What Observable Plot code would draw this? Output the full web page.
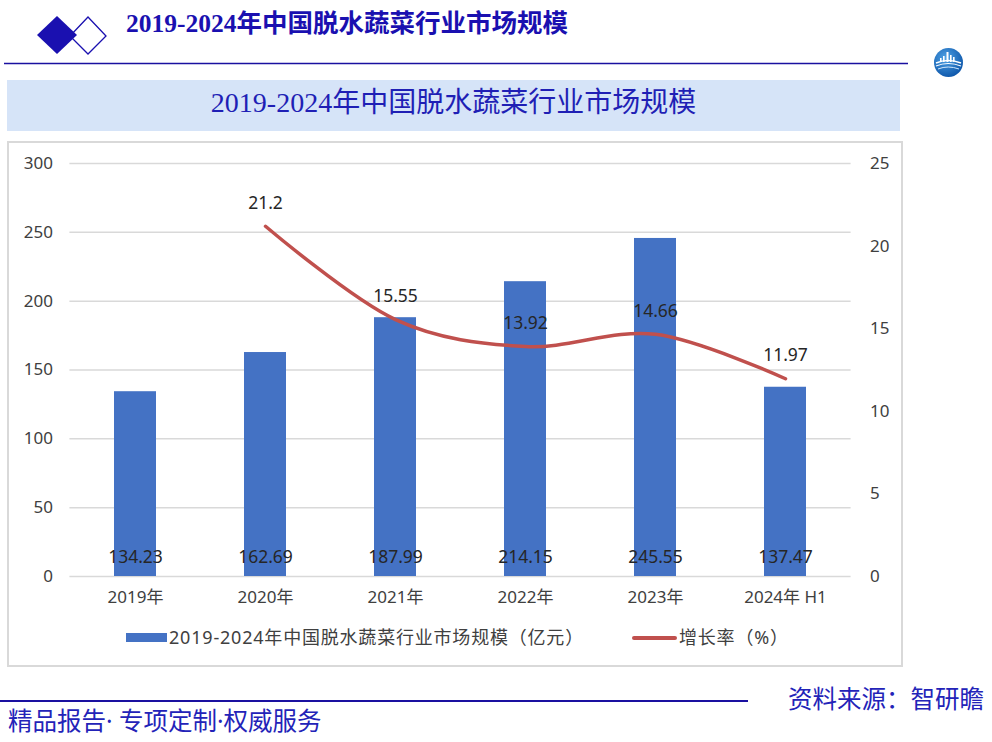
<!DOCTYPE html>
<html><head><meta charset="utf-8">
<script src="https://cdn.jsdelivr.net/npm/d3@7"></script>
<script src="https://cdn.jsdelivr.net/npm/@observablehq/plot@0.6"></script>
<style>
body{margin:0;background:#fff;width:992px;height:742px;position:relative;overflow:hidden;font-family:"Noto Sans","Noto Sans CJK SC",sans-serif;}
.abs{position:absolute;}
#legend{left:0;top:626px;width:992px;height:22px;}
.sw{position:absolute;}
.lt{position:absolute;font-size:18px;letter-spacing:0.8px;color:#404040;line-height:22px;white-space:nowrap;}
</style></head><body>
<svg class="abs" style="left:0;top:0" width="992" height="100">
  <defs>
    <radialGradient id="lg" cx="0.4" cy="0.35" r="0.7">
      <stop offset="0" stop-color="#4fa3e6"/>
      <stop offset="1" stop-color="#0c54a8"/>
    </radialGradient>
  </defs>
  <polygon points="88,17 106,36 88,54 70,36" fill="#fff" stroke="#1a10b0" stroke-width="1.3"/>
  <polygon points="57,16 77,35 57,54 37,35" fill="#1a10b0"/>
  <line x1="4" y1="63.5" x2="908" y2="63.5" stroke="#1a10a0" stroke-width="1.5"/>
  <circle cx="948.5" cy="62.5" r="14.5" fill="url(#lg)"/>
  <g fill="#fff">
    <rect x="946.5" y="52" width="2" height="10"/>
    <rect x="950" y="55" width="1.6" height="7"/>
    <rect x="943" y="56" width="1.6" height="6"/>
    <rect x="953" y="57" width="1.6" height="5"/>
    <rect x="940" y="58" width="1.6" height="4"/>
  </g>
  <path d="M936,63 Q948,58 961,63" stroke="#fff" stroke-width="1.6" fill="none"/>
  <path d="M936,66 Q948,61 961,66" stroke="#fff" stroke-width="1.2" fill="none"/>
  <path d="M938,69 Q948,65 959,69" stroke="#cfe6fa" stroke-width="1" fill="none"/>
</svg>
<div class="abs" id="htitle" style="left:126px;top:9px;font:bold 25.5px 'Liberation Serif','Noto Sans CJK SC',serif;color:#1a10b0;line-height:30px;white-space:nowrap"></div>
<div class="abs" style="left:7px;top:80px;width:893px;height:51px;background:#d6e4f8;"></div>
<div class="abs" id="btitle" style="left:7px;top:80px;width:893px;height:51px;line-height:51px;text-align:center;font:28px 'Liberation Serif','Noto Sans CJK SC',serif;color:#1f1fb5;white-space:nowrap"></div>
<div class="abs" style="left:7px;top:141px;width:896px;height:526px;border:2px solid #d9d9d9;box-sizing:border-box;"></div>
<div class="abs" id="chart" style="left:10px;top:144px;"></div>
<div class="abs" id="legend">
  <div class="sw" style="left:126px;top:7px;width:41px;height:9px;background:#4472C4"></div>
  <div class="lt" id="leg1" style="left:169px;top:0"></div>
  <div class="sw" style="left:632px;top:9.5px;width:45px;height:4px;background:#C0504D;border-radius:2px"></div>
  <div class="lt" id="leg2" style="left:679px;top:0"></div>
</div>
<div class="abs" style="left:0;top:700px;width:748px;height:1.5px;background:#1a10a0"></div>
<div class="abs" id="src" style="left:788px;top:683px;font-size:24.5px;line-height:30px;color:#2323b8;white-space:nowrap;font-family:'Noto Sans CJK SC',sans-serif"></div>
<div class="abs" id="slogan" style="left:8px;top:706px;font-size:24.5px;line-height:30px;color:#2323b8;white-space:nowrap;font-family:'Noto Sans','Noto Sans CJK SC',sans-serif"></div>
<script>
const titleText = "2019-2024年中国脱水蔬菜行业市场规模";
const legendBar = "2019-2024年中国脱水蔬菜行业市场规模（亿元）";
const legendLine = "增长率（%）";
const sourceText = "资料来源：智研瞻";
const sloganText = "精品报告· 专项定制·权威服务";

const years = ["2019年", "2020年", "2021年", "2022年", "2023年", "2024年 H1"];
const marketSize = [134.23, 162.69, 187.99, 214.15, 245.55, 137.47];
const growthRate = [null, 21.2, 15.55, 13.92, 14.66, 11.97];
const leftTicks = [0, 50, 100, 150, 200, 250, 300];
const rightTicks = [0, 5, 10, 15, 20, 25];
const RATIO = 300 / 25;

document.getElementById("htitle").textContent = titleText;
document.getElementById("btitle").textContent = titleText;
document.getElementById("leg1").textContent = legendBar;
document.getElementById("leg2").textContent = legendLine;
document.getElementById("src").textContent = sourceText;
document.getElementById("slogan").textContent = sloganText;

const bars = years.map((y, i) => ({year: y, value: marketSize[i]}));
const rates = years.map((y, i) => ({year: y, rate: growthRate[i]})).filter(d => d.rate != null);

const chart = Plot.plot({
  width: 890,
  height: 482,
  marginLeft: 59.4,
  marginRight: 49.4,
  marginTop: 19,
  marginBottom: 50,
  style: {background: "transparent", fontFamily: '"Noto Sans","Noto Sans CJK SC",sans-serif', fontSize: "17px", color: "#404040", overflow: "visible"},
  x: {domain: years, paddingInner: 0.674, paddingOuter: 0.337, label: null},
  y: {domain: [0, 300], label: null},
  marks: [
    Plot.ruleY(leftTicks, {stroke: "#d9d9d9", strokeWidth: 1.5}),
    Plot.barY(bars, {x: "year", y: "value", fill: "#4472C4"}),
    Plot.text(bars, {x: "year", y: () => 0, text: d => d.value.toFixed(2), dy: -19, fill: "#262626", fontSize: 17.5}),
    Plot.lineY(rates, {x: "year", y: d => d.rate * RATIO, stroke: "#C0504D", strokeWidth: 3.5, curve: "cardinal", strokeLinecap: "round"}),
    Plot.text(rates, {x: "year", y: d => d.rate * RATIO, text: d => String(d.rate), dy: -23, fill: "#262626", fontSize: 17.5}),
    Plot.axisY({ticks: leftTicks, anchor: "left", tickSize: 0, tickPadding: 17, label: null}),
    Plot.axisY({ticks: rightTicks.map(v => v * RATIO), anchor: "right", tickSize: 0, tickPadding: 19, tickFormat: d => String(d / RATIO), label: null}),
    Plot.axisX({tickSize: 0, tickPadding: 14, label: null})
  ]
});
document.getElementById("chart").appendChild(chart);
</script>
</body></html>
